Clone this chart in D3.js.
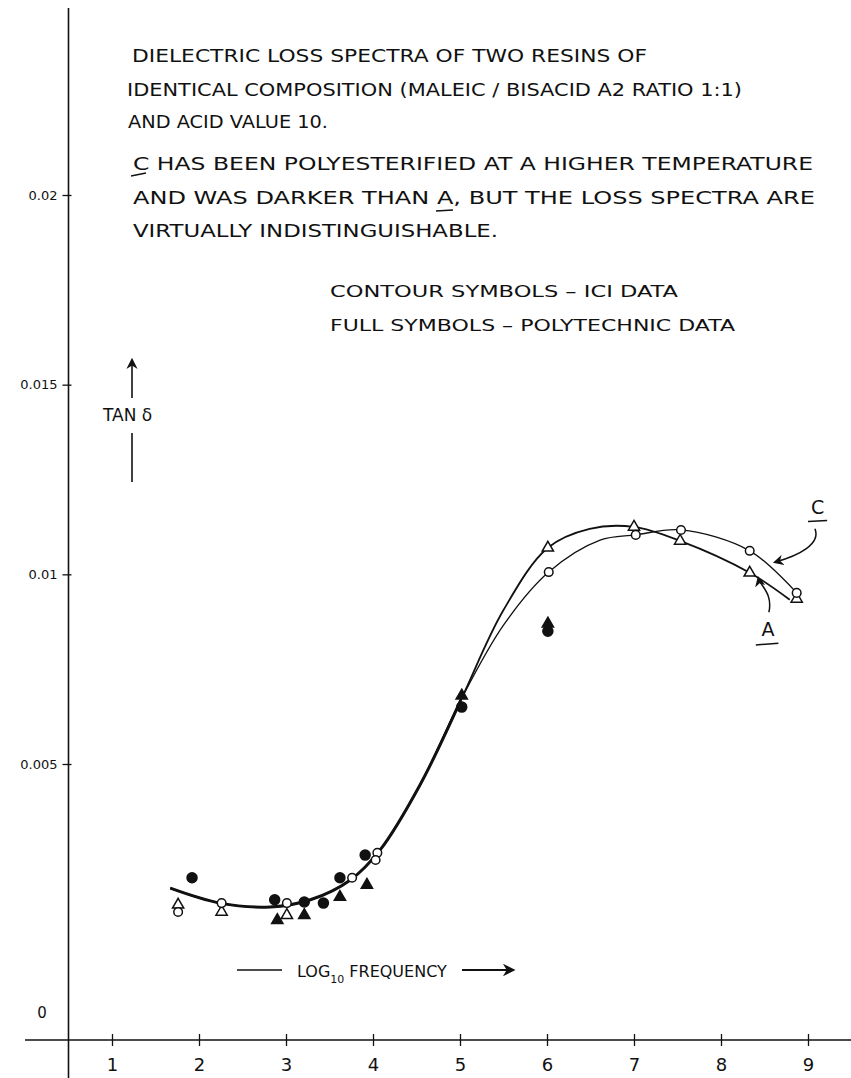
<!DOCTYPE html>
<html>
<head>
<meta charset="utf-8">
<script src="https://cdn.jsdelivr.net/npm/d3@7"></script>
<style>
  body { margin: 0; background: #fff; }
  text { font-family: "DejaVu Sans", sans-serif; fill: #111; }
</style>
</head>
<body>
<div id="chart"></div>
<script>
/* Dielectric loss spectra, resins A and C (hand drawn chart) */

// x ticks (log10 frequency) and y ticks (tan delta)
const xTicks = [1, 2, 3, 4, 5, 6, 7, 8, 9];
const yTicks = [0.005, 0.01, 0.015, 0.02];
const yTickLabels = ["0.005", "0.01", "0.015", "0.02"];

// ICI data - contour symbols [log f, tan d]
const iciC = [[1.76, 0.00232], [2.26, 0.00248], [3.01, 0.00248], [3.76, 0.00294], [4.05, 0.00339], [4.03, 0.00326],
              [6.02, 0.01006], [7.02, 0.01104], [7.54, 0.01117], [8.33, 0.01062], [8.87, 0.00951]];
const iciA = [[1.76, 0.00245], [2.26, 0.00232], [3.01, 0.00226],
              [6.01, 0.0107], [7.0, 0.01125], [7.53, 0.01088], [8.33, 0.01004], [8.87, 0.00935]];

// Polytechnic data - full symbols
const polyC = [[1.92, 0.00294], [2.87, 0.00254], [3.21, 0.0025], [3.43, 0.00248], [3.62, 0.00294], [3.91, 0.00335],
               [5.02, 0.0065], [6.01, 0.0085]];
const polyA = [[2.9, 0.00217], [3.21, 0.00226], [3.62, 0.00259], [3.93, 0.00281], [5.02, 0.0068], [6.01, 0.0087]];

// hand drawn curves
const sharedCurve = [[1.67, 0.00275], [2.24, 0.00248], [2.82, 0.00241], [3.28, 0.00254], [3.74, 0.0029],
                     [4.08, 0.00344], [4.54, 0.00462], [5.01, 0.00669]];
const curveA = sharedCurve.concat([[5.5, 0.00906], [6.01, 0.0107], [6.49, 0.0112], [7.0, 0.01125],
                                   [7.53, 0.01088], [8.33, 0.01004], [8.79, 0.00933]]);
const curveC = sharedCurve.concat([[5.5, 0.00866], [6.02, 0.01006], [6.61, 0.0109], [7.02, 0.01104],
                                   [7.54, 0.01117], [8.33, 0.01062], [8.87, 0.00951]]);

const notes = [
    "DIELECTRIC LOSS SPECTRA OF TWO RESINS OF",
    "IDENTICAL COMPOSITION (MALEIC / BISACID A2 RATIO 1:1)",
    "AND ACID VALUE 10.",
    "C HAS BEEN POLYESTERIFIED AT A HIGHER TEMPERATURE",
    "AND WAS DARKER THAN A, BUT THE LOSS SPECTRA ARE",
    "VIRTUALLY INDISTINGUISHABLE."
];
const legendLines = ["CONTOUR SYMBOLS – ICI DATA", "FULL SYMBOLS – POLYTECHNIC DATA"];

const width = 851,
      height = 1078;

let svg = d3.select("#chart")
    .append("svg")
    .attr("width", width)
    .attr("height", height);

let x = d3.scaleLinear()
    .domain([0, 9])
    .range([25, 808]);

// the drawn axis is squeezed below 0.005
let y = d3.scaleLinear()
    .domain([0, 0.005, 0.02])
    .range([1040, 764, 195]);

svg.append("defs").append("marker")
    .attr("id", "head")
    .attr("viewBox", "0 0 10 10")
    .attr("refX", 8).attr("refY", 5)
    .attr("markerWidth", 7).attr("markerHeight", 7)
    .attr("orient", "auto")
    .append("path")
    .attr("d", "M0,0 L10,5 L0,10 L3,5 Z")
    .attr("fill", "#111");

// axes lines
svg.append("line")
    .attr("x1", x(0.5)).attr("x2", x(0.5))
    .attr("y1", 8).attr("y2", height)
    .attr("stroke", "#111").attr("stroke-width", 1.6);

svg.append("line")
    .attr("x1", 25).attr("x2", width)
    .attr("y1", y(0)).attr("y2", y(0))
    .attr("stroke", "#111").attr("stroke-width", 1.6);

const yAxis = g => g
    .attr("transform", `translate(${x(0.5)},0)`)
    .call(d3.axisLeft(y).tickValues(yTicks).tickSize(6).tickPadding(5)
        .tickFormat((d, i) => yTickLabels[i]))
    .call(g => g.select(".domain").remove())
    .call(g => g.selectAll(".tick line").attr("x1", 3).attr("stroke", "#111").attr("stroke-width", 1.3))
    .call(g => g.selectAll(".tick text").style("font-size", "13px").attr("fill", "#111")
        .style("font-family", "DejaVu Sans, sans-serif"));

const xAxis = g => g
    .attr("transform", `translate(0,${y(0)})`)
    .call(d3.axisBottom(x).tickValues(xTicks).tickSize(6).tickPadding(12))
    .call(g => g.select(".domain").remove())
    .call(g => g.selectAll(".tick line").attr("y1", -6).attr("stroke", "#111").attr("stroke-width", 1.3))
    .call(g => g.selectAll(".tick text").style("font-size", "18px").attr("fill", "#111")
        .style("font-family", "DejaVu Sans, sans-serif"));

svg.append("g").call(yAxis);
svg.append("g").call(xAxis);

svg.append("text")
    .attr("x", 42).attr("y", y(0) - 22)
    .attr("text-anchor", "middle")
    .attr("font-size", 15)
    .text("0");

// curves
const line = d3.line()
    .x(d => x(d[0]))
    .y(d => y(d[1]))
    .curve(d3.curveCatmullRom.alpha(0.5));

svg.append("path")
    .datum(curveC)
    .attr("d", line)
    .attr("fill", "none")
    .attr("stroke", "#111")
    .attr("stroke-width", 1.3);

svg.append("path")
    .datum(curveA)
    .attr("d", line)
    .attr("fill", "none")
    .attr("stroke", "#111")
    .attr("stroke-width", 1.8);

svg.append("path")
    .datum(sharedCurve)
    .attr("d", line)
    .attr("fill", "none")
    .attr("stroke", "#111")
    .attr("stroke-width", 3);

// symbols
const tri = d3.symbol().type(d3.symbolTriangle).size(55);

function drawCircles(data, filled) {
    svg.append("g").selectAll("circle")
        .data(data)
        .join("circle")
        .attr("cx", d => x(d[0]))
        .attr("cy", d => y(d[1]))
        .attr("r", filled ? 5 : 4.3)
        .attr("fill", filled ? "#111" : "#fff")
        .attr("stroke", "#111")
        .attr("stroke-width", 1.5);
}

function drawTriangles(data, filled) {
    svg.append("g").selectAll("path")
        .data(data)
        .join("path")
        .attr("transform", d => `translate(${x(d[0])},${y(d[1])})`)
        .attr("d", tri)
        .attr("fill", filled ? "#111" : "#fff")
        .attr("stroke", "#111")
        .attr("stroke-width", 1.5);
}

drawTriangles(iciA, false);
drawCircles(iciC, false);
drawTriangles(polyA, true);
drawCircles(polyC, true);

// notes at top
let noteLines = [[132, 62, 515], [127, 96, 615], [128, 128, 200], [133, 170, 680], [133, 204, 682], [133, 237, 365]];
svg.append("g").selectAll("text")
    .data(notes)
    .join("text")
    .attr("x", (d, i) => noteLines[i][0])
    .attr("y", (d, i) => noteLines[i][1])
    .attr("textLength", (d, i) => noteLines[i][2])
    .attr("lengthAdjust", "spacingAndGlyphs")
    .attr("font-size", 17)
    .text(d => d);

// underlines for C and A in the notes
svg.append("line").attr("x1", 131).attr("x2", 146).attr("y1", 176).attr("y2", 173)
    .attr("stroke", "#111").attr("stroke-width", 1.5);
svg.append("line").attr("x1", 436).attr("x2", 453).attr("y1", 211).attr("y2", 210)
    .attr("stroke", "#111").attr("stroke-width", 1.5);

svg.append("g").selectAll("text")
    .data(legendLines)
    .join("text")
    .attr("x", 330)
    .attr("y", (d, i) => 297 + i * 34)
    .attr("textLength", (d, i) => i ? 405 : 348)
    .attr("lengthAdjust", "spacingAndGlyphs")
    .attr("font-size", 15)
    .text(d => d);

// y label with arrows
svg.append("line")
    .attr("x1", 132).attr("x2", 132).attr("y1", 398).attr("y2", 360)
    .attr("stroke", "#111").attr("stroke-width", 1.6)
    .attr("marker-end", "url(#head)");
svg.append("text")
    .attr("x", 103).attr("y", 421)
    .attr("font-size", 17)
    .text("TAN δ");
svg.append("line")
    .attr("x1", 132).attr("x2", 132).attr("y1", 433).attr("y2", 482)
    .attr("stroke", "#111").attr("stroke-width", 1.6);

// x label
svg.append("line")
    .attr("x1", 237).attr("x2", 282).attr("y1", 970).attr("y2", 970)
    .attr("stroke", "#111").attr("stroke-width", 1.6);
let xl = svg.append("text")
    .attr("x", 297).attr("y", 977)
    .attr("font-size", 16);
xl.append("tspan").text("LOG");
xl.append("tspan").attr("font-size", 11).attr("dy", 6).text("10");
xl.append("tspan").attr("dy", -6).attr("dx", 5).text("FREQUENCY");
svg.append("line")
    .attr("x1", 462).attr("x2", 513).attr("y1", 970).attr("y2", 970)
    .attr("stroke", "#111").attr("stroke-width", 1.8)
    .attr("marker-end", "url(#head)");

// curve labels C and A with arrows
svg.append("text").attr("x", x(9.11)).attr("y", y(0.0116)).attr("text-anchor", "middle")
    .attr("font-size", 19).text("C");
svg.append("line").attr("x1", x(9.0)).attr("x2", x(9.22)).attr("y1", y(0.01139)).attr("y2", y(0.01142))
    .attr("stroke", "#111").attr("stroke-width", 1.5);
svg.append("path")
    .attr("d", `M${x(9.08)},${y(0.0112)} C${x(9.15)},${y(0.0108)} ${x(8.9)},${y(0.0105)} ${x(8.62)},${y(0.01032)}`)
    .attr("fill", "none").attr("stroke", "#111").attr("stroke-width", 1.5)
    .attr("marker-end", "url(#head)");

svg.append("text").attr("x", x(8.54)).attr("y", y(0.00837)).attr("text-anchor", "middle")
    .attr("font-size", 19).text("A");
svg.append("line").attr("x1", x(8.4)).attr("x2", x(8.66)).attr("y1", y(0.00814)).attr("y2", y(0.00818))
    .attr("stroke", "#111").attr("stroke-width", 1.5);
svg.append("path")
    .attr("d", `M${x(8.55)},${y(0.009)} C${x(8.6)},${y(0.0095)} ${x(8.45)},${y(0.0097)} ${x(8.43)},${y(0.0099)}`)
    .attr("fill", "none").attr("stroke", "#111").attr("stroke-width", 1.5)
    .attr("marker-end", "url(#head)");
</script>
</body>
</html>
